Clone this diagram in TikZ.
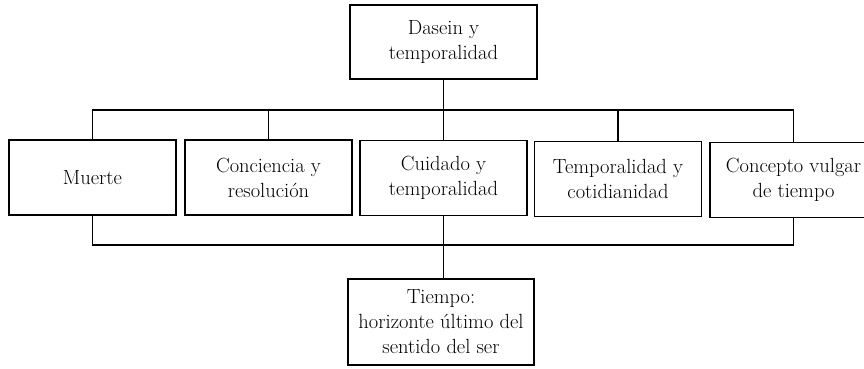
\documentclass[tikz,border=0pt]{standalone}
\usepackage{fontspec}
\setmainfont{Latin Modern Roman}
\begin{document}
\begin{tikzpicture}[x=1pt,y=-1pt,
  box/.style={draw, line width=1.8pt, minimum width=167pt, minimum height=75pt,
    align=center, inner sep=0pt, font=\fontsize{20.5}{25}\selectfont},
  conn/.style={line width=1.8pt}]
\useasboundingbox (0,0) rectangle (864,368);
\clip (0,0) rectangle (864,368);
\node[box, minimum width=187pt, minimum height=74pt] (top) at (443.5,42) {Dasein y\\temporalidad};
\node[box] (m) at (92.5,177.5) {Muerte};
\node[box] (c) at (268.5,177.5) {Conciencia y\\resolución};
\node[box] (cu) at (443.5,178) {Cuidado y\\temporalidad};
\node[box] (t) at (618,179) {Temporalidad y\\cotidianidad};
\node[box] (v) at (793.5,180) {Concepto vulgar\\de tiempo};
\node[box, minimum width=186pt, minimum height=86pt] (h) at (441,322) {Tiempo:\\horizonte último del\\sentido del ser};
\coordinate (tl) at (92.5,110);
\coordinate (tr) at (793.5,110);
\coordinate (bl) at (92.5,245);
\coordinate (br) at (793.5,245);
\draw[conn] (top.south) -- (top.south |- tl);
\draw[conn] (m.north) -- (tl) -- (tr) -- (v.north);
\draw[conn] (c.north) -- (c.north |- tl);
\draw[conn] (cu.north) -- (cu.north |- tl);
\draw[conn] (t.north) -- (t.north |- tl);
\draw[conn] (m.south) -- (bl) -- (br) -- (v.south);
\draw[conn] (cu.south) -- (cu.south |- h.north);
\end{tikzpicture}
\end{document}
